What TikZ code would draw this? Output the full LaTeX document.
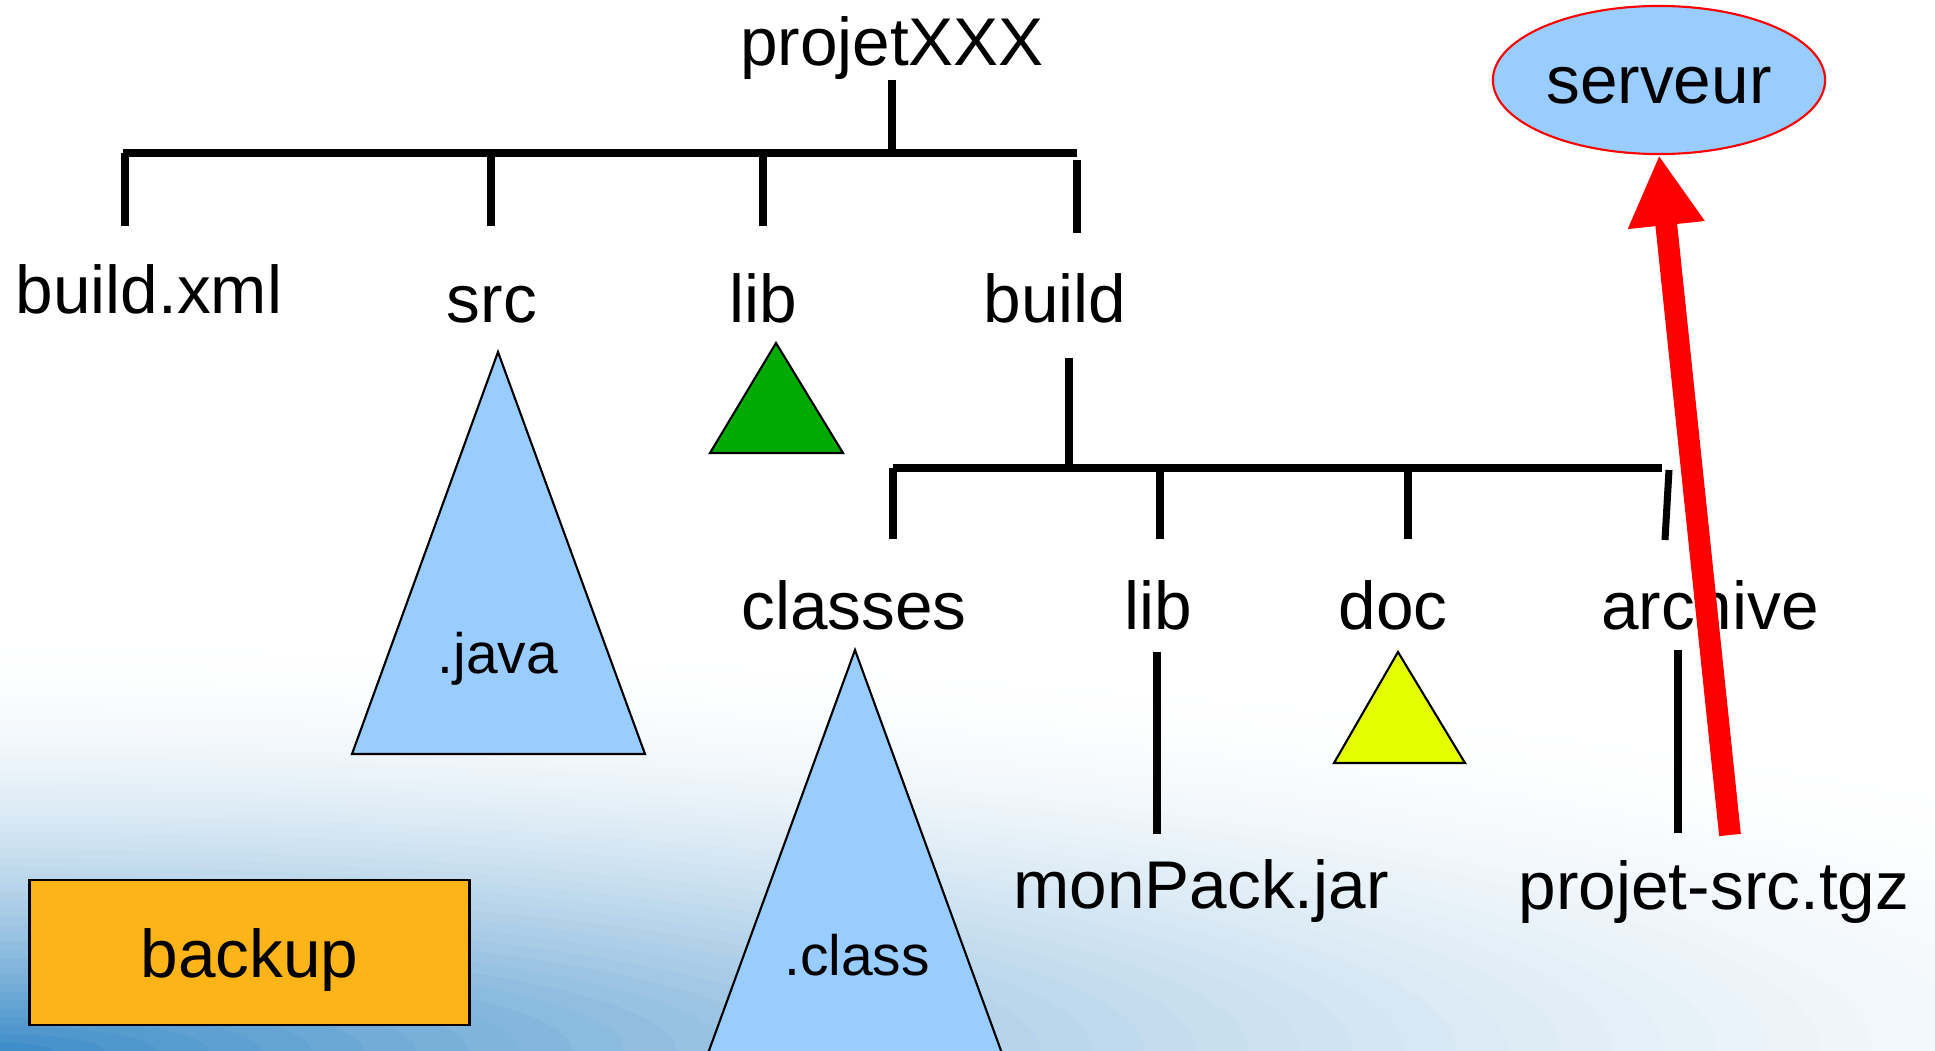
\documentclass[tikz,border=0pt]{standalone}
\usepackage{fontspec}
\setmainfont{Liberation Sans}
\usepackage{xcolor}
\usepackage{tikz}
\usetikzlibrary{arrows.meta,shapes.geometric,calc}
\definecolor{fileblue}{RGB}{153,204,255}
\definecolor{libgreen}{RGB}{0,170,0}
\definecolor{docyellow}{RGB}{228,255,0}
\definecolor{backorange}{RGB}{253,180,25}
\definecolor{bgblue}{RGB}{60,140,200}
\definecolor{srvred}{RGB}{255,0,0}

\begin{document}
\begin{tikzpicture}[
    x=0.01cm, y=-0.01cm,
    lbl/.style={anchor=base, inner sep=0pt, font=\fontsize{19.2}{22}\selectfont},
    ext/.style={anchor=base, inner sep=0pt, font=\fontsize{16.2}{19}\selectfont},
    branch/.style={line width=2pt},
    tri/.style={draw=black, line width=0.6pt, line join=miter},
    upload/.style={-{Triangle[length=20pt,width=20.5pt]}, draw=srvred, line width=6.2pt}
]
\useasboundingbox (0,0) rectangle (1935,1051);
\clip (0,0) rectangle (1935,1051);
\fill[white] (0,0) rectangle (1935,1051);
% background fading into the lower left corner
\foreach \k in {0,...,49}{
  \pgfmathsetmacro\rr{1-\k/50}
  \pgfmathsetmacro\pct{100*(1-\rr+0.01)^2}
  \fill[bgblue!\pct!white] (0,1051) ellipse [x radius={2600*\rr}, y radius={420*\rr}];
}

% labels
\node[lbl] (projet) at (892,65) {projetXXX};
\node[lbl] (buildxml) at (149,313) {build.xml};
\node[lbl] (src) at (492,322) {src};
\node[lbl] (lib) at (763,322) {lib};
\node[lbl] (build) at (1055,322) {build};
\node[lbl] (classes) at (854,629) {classes};
\node[lbl] (blib) at (1158,629) {lib};
\node[lbl] (doc) at (1393,629) {doc};
\node[lbl] (monpack) at (1201,908) {monPack.jar};
\node[lbl] (tgz) at (1714,909) {projet-src.tgz};

% top level
\coordinate (tl) at (123,153);
\coordinate (tr) at (1077,153);
\draw[branch] (projet.south) -- (projet.south |- tl);
\draw[branch] (tl) -- (tr);
\foreach \x in {125,491,763} \draw[branch] (\x,153) -- (\x,226);
\draw[branch] (1077,160) -- (1077,233);

% build level
\draw[branch] (1069,358) -- (1069,467);
\draw[branch] (893,468) -- (1662,468);
\foreach \x in {893,1160,1408} \draw[branch] (\x,468) -- (\x,539);
\draw[branch] (1669,470) -- (1665,540);
\draw[branch] (1157,652) -- (1157,834);
\draw[branch] (1678,650) -- (1678,833);

% contents
\filldraw[tri, fill=fileblue] (498,352) -- (645,754) -- (352,754) -- cycle;
\node[ext] (java) at (498,673) {.java};
\filldraw[tri, fill=libgreen] (776,343) -- (843,453) -- (710,453) -- cycle;
\filldraw[tri, fill=fileblue] (855,650) -- (1019,1100) -- (691,1100) -- cycle;
\node[ext] (class) at (857,975) {.class};
\filldraw[tri, fill=docyellow] (1398,652) -- (1465,763) -- (1334,763) -- cycle;

\node[draw=black, line width=0.8pt, fill=backorange, minimum width=4.39cm, minimum height=1.45cm,
  inner sep=0pt, font=\fontsize{19.2}{22}\selectfont, text height=0.49cm, text depth=0pt] (backup) at (249.5,952.5) {backup};
\node[ellipse, draw=srvred, line width=0.6pt, fill=fileblue, minimum width=3.32cm, minimum height=1.48cm,
  inner sep=0pt, font=\fontsize{19.2}{22}\selectfont, text height=0.46cm, text depth=0pt] (serveur) at (1659,80) {serveur};

\node[lbl] (archive) at (1710,629) {archive};
\coordinate (upl) at (1730,835);
\draw[upload] (upl) -- (serveur.south);
\end{tikzpicture}
\end{document}
